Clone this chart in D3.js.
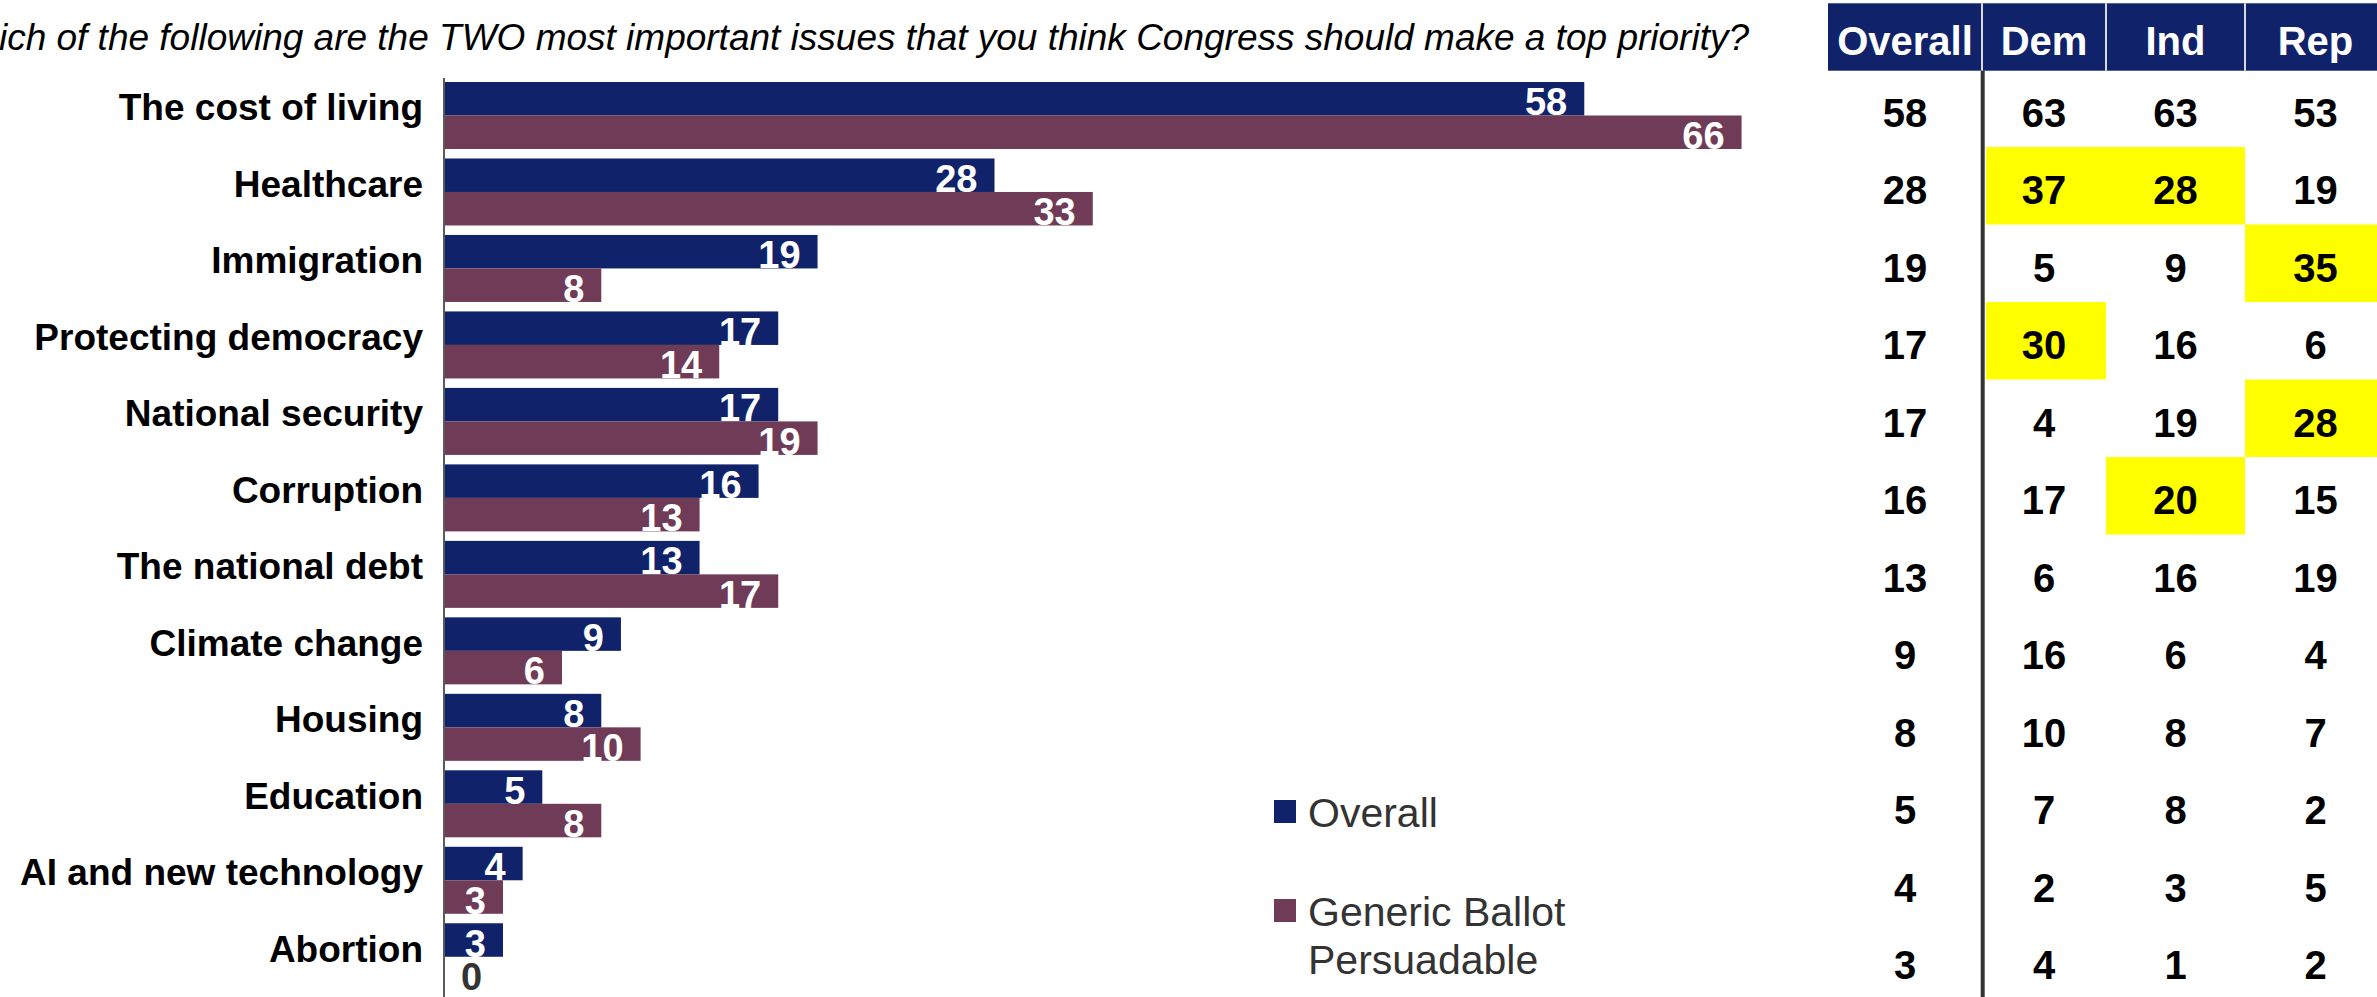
<!DOCTYPE html>
<html>
<head>
<meta charset="utf-8">
<script src="https://cdn.jsdelivr.net/npm/d3@7"></script>
<style>
  html, body { margin: 0; padding: 0; background: #fff; }
  svg { display: block; }
  text { font-family: "Liberation Sans", Arial, sans-serif; }
</style>
</head>
<body>
<svg id="chart" width="2377" height="997"></svg>
<script>
// ---------- DATA ----------
const title = "Which of the following are the TWO most important issues that you think Congress should make a top priority?";
const categories = ["The cost of living", "Healthcare", "Immigration", "Protecting democracy", "National security",
  "Corruption", "The national debt", "Climate change", "Housing", "Education", "AI and new technology", "Abortion"];
const seriesNames = ["Overall", "Generic Ballot Persuadable"];
const overall     = [58, 28, 19, 17, 17, 16, 13, 9, 8, 5, 4, 3];
const persuadable = [66, 33, 8, 14, 19, 13, 17, 6, 10, 8, 3, 0];
const tableHeaders = ["Overall", "Dem", "Ind", "Rep"];
const tableOverall = [58, 28, 19, 17, 17, 16, 13, 9, 8, 5, 4, 3];
const tableDem     = [63, 37, 5, 30, 4, 17, 6, 16, 10, 7, 2, 4];
const tableInd     = [63, 28, 9, 16, 19, 20, 16, 6, 8, 8, 3, 1];
const tableRep     = [53, 19, 35, 6, 28, 15, 19, 4, 7, 2, 5, 2];
// highlighted cells: [row index, column index]
const highlights = [[1, 1], [1, 2], [2, 3], [3, 1], [4, 3], [5, 2]];

// ---------- STYLE ----------
const NAVY = "#10226a", MAROON = "#703b56", YELLOW = "#ffff00";
const svg = d3.select("#chart");

// ---------- TITLE ----------
svg.append("text")
  .attr("x", 1749).attr("y", 50)
  .attr("text-anchor", "end")
  .attr("font-size", 37).attr("font-style", "italic")
  .attr("fill", "#000")
  .text(title);

// ---------- BAR CHART ----------
const x = d3.scaleLinear().domain([0, 70]).range([444, 444 + 70 * 19.66]);
const y = d3.scaleBand().domain(categories).range([77.26, 995]).paddingInner(0.124).paddingOuter(0.062);
const ySub = d3.scaleBand().domain(seriesNames).range([0, y.bandwidth()]);
const color = d3.scaleOrdinal().domain(seriesNames).range([NAVY, MAROON]);

const rows = categories.map((c, i) => ({ cat: c, vals: [
  { s: seriesNames[0], v: overall[i] },
  { s: seriesNames[1], v: persuadable[i] }
]}));

const groups = svg.append("g").selectAll("g").data(rows).join("g")
  .attr("transform", d => `translate(0,${y(d.cat)})`);

groups.selectAll("rect").data(d => d.vals).join("rect")
  .attr("x", x(0))
  .attr("y", d => ySub(d.s))
  .attr("width", d => x(d.v) - x(0))
  .attr("height", ySub.bandwidth())
  .attr("fill", d => color(d.s));

const LFS = 38;
groups.selectAll("text.val").data(d => d.vals).join("text")
  .attr("class", "val")
  .attr("x", d => d.v === 0 ? x(0) + 17 : x(d.v) - 17)
  .attr("y", d => ySub(d.s) + ySub.bandwidth() / 2 + 3 + LFS * 0.358)
  .attr("text-anchor", d => d.v === 0 ? "start" : "end")
  .attr("font-size", LFS).attr("font-weight", "bold")
  .attr("fill", d => d.v === 0 ? "#333" : "#fff")
  .text(d => d.v);

// category axis
const yAxis = d3.axisLeft(y).tickSize(0).tickPadding(21);
const ag = svg.append("g").attr("transform", `translate(${x(0)},0)`).call(yAxis);
ag.select(".domain").remove();
ag.selectAll("text")
  .attr("font-size", 37).attr("font-weight", "bold").attr("fill", "#000")
  .attr("dy", null)
  .attr("y", 5);
svg.append("line")
  .attr("x1", x(0)).attr("x2", x(0))
  .attr("y1", 78).attr("y2", 997)
  .attr("stroke", "#5a5a5a").attr("stroke-width", 2);

// ---------- LEGEND ----------
const legend = svg.append("g");
const legendItems = [
  { name: seriesNames[0], lines: ["Overall"], sy: 800 },
  { name: seriesNames[1], lines: ["Generic Ballot", "Persuadable"], sy: 899 }
];
legendItems.forEach(it => {
  legend.append("rect").attr("x", 1274).attr("y", it.sy).attr("width", 22).attr("height", 23)
    .attr("fill", color(it.name));
  const t = legend.append("text").attr("x", 1308).attr("y", it.sy + 27)
    .attr("font-size", 41).attr("fill", "#333");
  it.lines.forEach((ln, k) => {
    t.append("tspan").attr("x", 1308).attr("dy", k === 0 ? 0 : 48).text(ln);
  });
});

// ---------- TABLE ----------
const colEdges = [1828, 1982, 2106, 2245, 2386];
const tableCols = [tableOverall, tableDem, tableInd, tableRep];
const colX = i => (colEdges[i] + colEdges[i + 1]) / 2;
const yT = d3.scaleBand().domain(categories).range([69.5, 69.5 + 12 * 77.5]);

const tg = svg.append("g");
// header
tg.append("rect").attr("x", colEdges[0]).attr("y", 3.3)
  .attr("width", colEdges[4] - colEdges[0]).attr("height", 67.4).attr("fill", NAVY);
[1, 2, 3].forEach(i => tg.append("line")
  .attr("x1", colEdges[i]).attr("x2", colEdges[i]).attr("y1", 3.3).attr("y2", 70.7)
  .attr("stroke", "#d9d9d9").attr("stroke-width", 2));
tg.selectAll("text.hdr").data(tableHeaders).join("text")
  .attr("class", "hdr")
  .attr("x", (d, i) => colX(i)).attr("y", 55)
  .attr("text-anchor", "middle")
  .attr("font-size", 40).attr("font-weight", "bold").attr("fill", "#fff")
  .text(d => d);

// highlights
tg.selectAll("rect.hl").data(highlights).join("rect")
  .attr("class", "hl")
  .attr("x", d => d[1] === 1 ? colEdges[1] + 4 : colEdges[d[1]])
  .attr("y", d => yT(categories[d[0]]))
  .attr("width", d => (colEdges[d[1] + 1] - colEdges[d[1]]) - (d[1] === 1 ? 4 : 0))
  .attr("height", yT.bandwidth())
  .attr("fill", YELLOW);

// vertical separator
tg.append("line")
  .attr("x1", 1982.7).attr("x2", 1982.7).attr("y1", 70.7).attr("y2", 997)
  .attr("stroke", "#333").attr("stroke-width", 4);

// values
const TFS = 40;
tableCols.forEach((col, ci) => {
  tg.append("g").selectAll("text").data(col).join("text")
    .attr("x", colX(ci))
    .attr("y", (d, ri) => yT(categories[ri]) + yT.bandwidth() / 2 + 4 + TFS * 0.358)
    .attr("text-anchor", "middle")
    .attr("font-size", TFS).attr("font-weight", "bold").attr("fill", "#000")
    .text(d => d);
});
</script>
</body>
</html>
